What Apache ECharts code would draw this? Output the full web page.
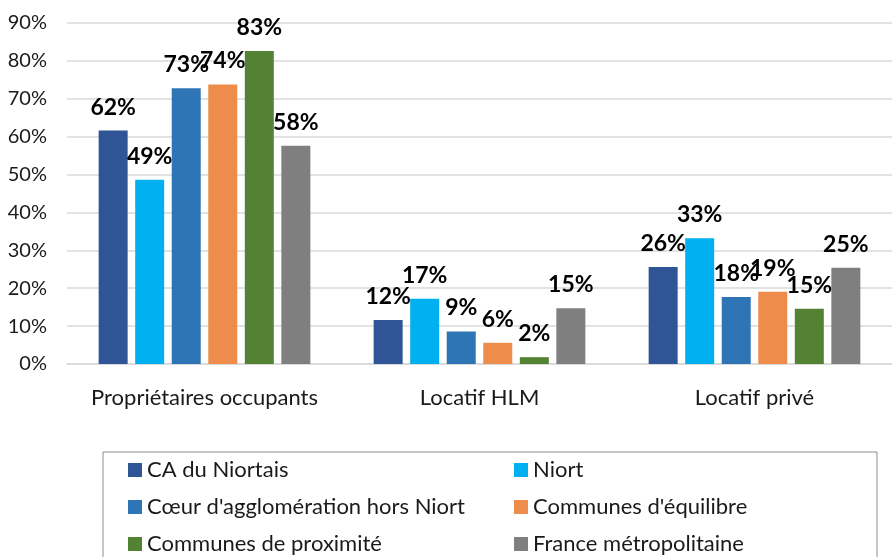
<!DOCTYPE html>
<html>
<head>
<meta charset="utf-8">
<script src="https://cdn.jsdelivr.net/npm/echarts@6/dist/echarts.min.js"></script>
<style>
  html, body { margin: 0; padding: 0; background: #fff; }
  #chart { width: 892px; height: 557px; }
</style>
</head>
<body>
<div id="chart"></div>
<script>
// categories and series (values in %)
const categories = ['Propriétaires occupants', 'Locatif HLM', 'Locatif privé']
const yTicks = [0, 10, 20, 30, 40, 50, 60, 70, 80, 90]

const caNiortais = [61.6, 11.6, 25.6]
const niort = [48.6, 17.2, 33.2]
const coeurAgglo = [72.8, 8.6, 17.7]
const communesEquilibre = [73.8, 5.6, 19.1]
const communesProximite = [82.6, 1.8, 14.6]
const franceMetro = [57.6, 14.7, 25.4]

const seriesNames = [
  'CA du Niortais',
  'Niort',
  "Cœur d'agglomération hors Niort",
  "Communes d'équilibre",
  'Communes de proximité',
  'France métropolitaine'
]
const seriesData = [caNiortais, niort, coeurAgglo, communesEquilibre, communesProximite, franceMetro]
const colors = ['#2F5597', '#00B0F0', '#2E75B6', '#EE8C4B', '#548235', '#7F7F7F']

const FONT = 'Lato'

const chart = echarts.init(document.getElementById('chart'), null, { renderer: 'canvas' })

// two columns in the legend box: left items wider than right ones
const legendData = seriesNames.map((name, i) => ({
  name: name,
  textStyle: { width: i % 2 === 0 ? 352 : 330 }
}))

const option = {
  animation: false,
  color: colors,
  textStyle: { fontFamily: FONT },
  grid: { left: 67, top: 23, width: 829, height: 341, containLabel: false },
  legend: {
    left: 103,
    top: 452,
    width: 790,
    orient: 'horizontal',
    icon: 'rect',
    itemWidth: 14,
    itemHeight: 14,
    itemGap: 15,
    padding: [7, 14, 20, 25],
    borderColor: '#8c8c8c',
    borderWidth: 1,
    textStyle: {
      fontFamily: FONT,
      fontSize: 22,
      color: '#1a1a1a',
      lineHeight: 22
    },
    data: legendData
  },
  xAxis: {
    type: 'category',
    data: categories,
    axisTick: { show: false },
    axisLine: { lineStyle: { color: '#d9d9d9', width: 1.5 } },
    axisLabel: { interval: 0, margin: 23, fontSize: 22, color: '#1a1a1a', fontFamily: FONT }
  },
  yAxis: {
    type: 'value',
    min: yTicks[0],
    max: yTicks[yTicks.length - 1],
    interval: 10,
    axisLine: { show: false },
    axisTick: { show: false },
    splitLine: { lineStyle: { color: '#d9d9d9', width: 1.5 } },
    axisLabel: {
      margin: 20,
      fontSize: 20,
      color: '#1a1a1a',
      fontFamily: FONT,
      formatter: v => v + '%'
    }
  },
  series: seriesNames.map((name, i) => ({
    name: name,
    type: 'bar',
    data: seriesData[i],
    barWidth: 29,
    barGap: '26%',
    label: {
      show: true,
      position: 'top',
      distance: 12,
      fontFamily: FONT,
      fontWeight: 'bold',
      fontSize: 23,
      color: '#000',
      formatter: p => Math.round(p.value) + '%'
    }
  }))
}

chart.setOption(option)
</script>
</body>
</html>
